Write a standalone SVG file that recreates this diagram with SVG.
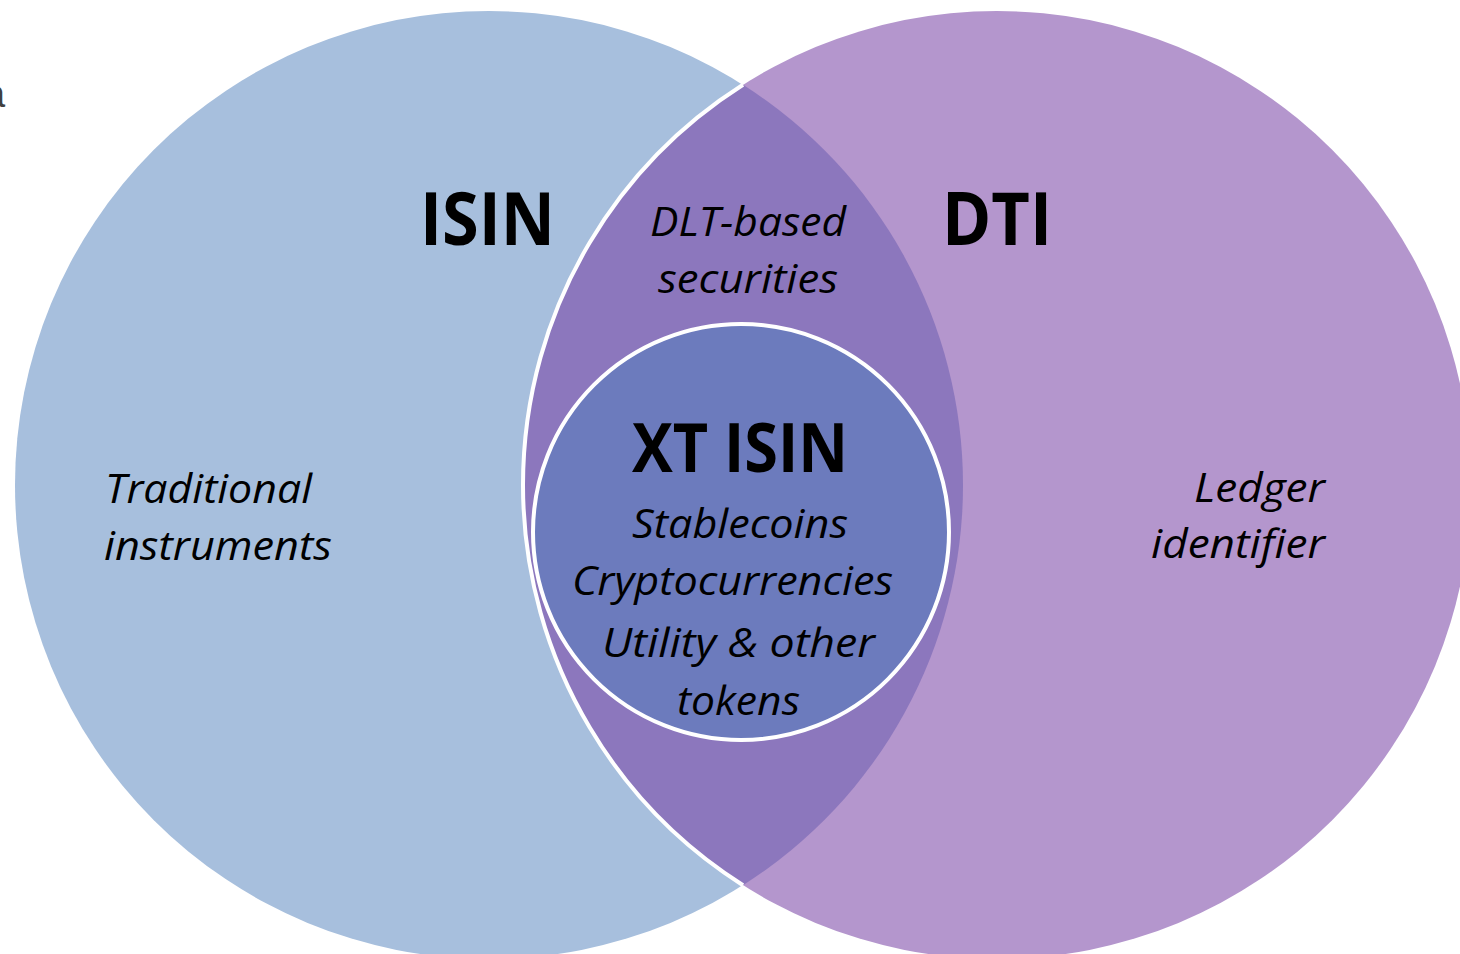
<svg xmlns="http://www.w3.org/2000/svg" width="1460" height="954" viewBox="0 0 1460 954">
<style>
.t{font-family:"Open Sans","Liberation Sans",sans-serif;fill:#000}
.b{font-weight:bold}
.i{font-style:italic;font-size:40px}
.m{text-anchor:middle}
.e{text-anchor:end}
</style>
<rect width="1460" height="954" fill="#fff"/>
<text x="-16" y="107" style="font-family:'Liberation Sans',sans-serif;font-size:38px;fill:#404040">a</text>
<g id="isin">
<circle cx="489" cy="485" r="474" fill="#A7BFDD"/>
</g>
<g id="dti">
<circle cx="997" cy="485" r="474" fill="#B496CD"/>
</g>
<g id="overlap">
<path d="M743 84.8 A474 474 0 0 1 743 885.2 A474 474 0 0 1 743 84.8 Z" fill="#8C77BD"/>
<path d="M743 84.8 A474 474 0 0 0 743 885.2" fill="none" stroke="#fff" stroke-width="4"/>
</g>
<g id="xtisin">
<circle cx="741" cy="532" r="208" fill="#6C7BBD" stroke="#fff" stroke-width="4"/>
</g>
<g id="labels">
<text class="t b" x="420" y="245" font-size="74" textLength="135" lengthAdjust="spacingAndGlyphs">ISIN</text>
<text class="t b" x="942" y="245" font-size="74" textLength="110" lengthAdjust="spacingAndGlyphs">DTI</text>
<text class="t i" x="650" y="236" textLength="196" lengthAdjust="spacingAndGlyphs">DLT-based</text>
<text class="t i" x="658" y="293" textLength="180" lengthAdjust="spacingAndGlyphs">securities</text>
<text class="t i" x="105" y="503" textLength="207" lengthAdjust="spacingAndGlyphs">Traditional</text>
<text class="t i" x="104" y="560" textLength="228" lengthAdjust="spacingAndGlyphs">instruments</text>
<text class="t i" x="1194" y="502" textLength="131" lengthAdjust="spacingAndGlyphs">Ledger</text>
<text class="t i" x="1151" y="558" textLength="174" lengthAdjust="spacingAndGlyphs">identifier</text>
<text class="t b" x="632" y="472" font-size="68" textLength="216" lengthAdjust="spacingAndGlyphs">XT ISIN</text>
<text class="t i" x="632" y="538" textLength="216" lengthAdjust="spacingAndGlyphs">Stablecoins</text>
<text class="t i" x="572" y="595" textLength="321" lengthAdjust="spacingAndGlyphs">Cryptocurrencies</text>
<text class="t i" x="602" y="657" textLength="273" lengthAdjust="spacingAndGlyphs">Utility &amp; other</text>
<text class="t i" x="677" y="715" textLength="123" lengthAdjust="spacingAndGlyphs">tokens</text>
</g>
</svg>
